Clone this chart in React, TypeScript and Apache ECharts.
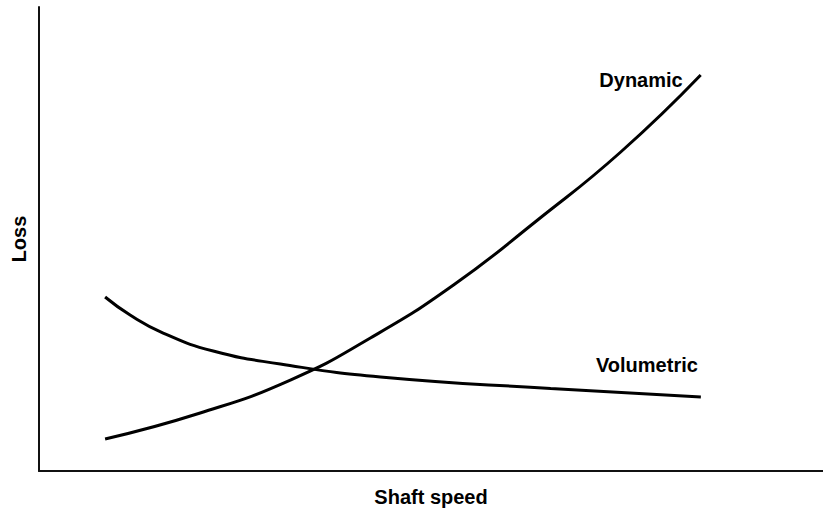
import React, { useEffect, useRef } from "react";
import * as echarts from "echarts";

const dynamicX = [8.43, 20.56, 32.06, 42.27, 52.87, 63.6, 74.2, 84.4];
const dynamicY = [6.9, 12.5, 19.61, 28.66, 40.09, 54.1, 68.75, 85.34];

const volumetricX = [8.43, 11.62, 15.84, 22.22, 30.78, 43.55, 65.26, 84.42];
const volumetricY = [37.5, 33.62, 29.74, 25.86, 23.06, 20.26, 17.78, 15.95];

const seriesNames = ["Dynamic", "Volumetric"];
const xAxisName = "Shaft speed";
const yAxisName = "Loss";

const FONT = "'Liberation Sans', Arial, sans-serif";

export default function App() {
  const ref = useRef<HTMLDivElement>(null);
  useEffect(() => {
    if (!ref.current) return;
    const chart = echarts.init(ref.current, null, { renderer: "svg" });
    const zip = (xs: number[], ys: number[]) => xs.map((x, i) => [x, ys[i]]);
    const lineStyle = { color: "#000", width: 3 };
    const textBase = { fontFamily: FONT, fontWeight: "bold" as const, fontSize: 20, color: "#000" };
    chart.setOption({
      animation: false,
      backgroundColor: "#fff",
      grid: { left: 39, right: 0, top: 7, bottom: 44 },
      xAxis: {
        type: "value",
        min: 0,
        max: 100,
        name: xAxisName,
        nameLocation: "middle",
        nameGap: 16,
        nameTextStyle: textBase,
        axisLine: { show: true, lineStyle: { color: "#111", width: 2 } },
        axisTick: { show: false },
        axisLabel: { show: false },
        splitLine: { show: false },
      },
      yAxis: {
        type: "value",
        min: 0,
        max: 100,
        name: yAxisName,
        nameLocation: "middle",
        nameGap: 10,
        nameTextStyle: textBase,
        axisLine: { show: true, lineStyle: { color: "#111", width: 2 } },
        axisTick: { show: false },
        axisLabel: { show: false },
        splitLine: { show: false },
      },
      series: [
        {
          name: seriesNames[0],
          type: "line",
          smooth: true,
          showSymbol: false,
          lineStyle,
          data: zip(dynamicX, dynamicY),
          endLabel: {
            show: true,
            formatter: seriesNames[0],
            ...textBase,
            align: "right",
            verticalAlign: "middle",
            offset: [-26, 5],
          },
        },
        {
          name: seriesNames[1],
          type: "line",
          smooth: true,
          showSymbol: false,
          lineStyle,
          data: zip(volumetricX, volumetricY),
          endLabel: {
            show: true,
            formatter: seriesNames[1],
            ...textBase,
            align: "right",
            verticalAlign: "middle",
            offset: [-11, -32],
          },
        },
      ],
    });
    return () => chart.dispose();
  }, []);
  return (
    <div
      ref={ref}
      style={{ position: "fixed", left: 0, top: 0, width: 823, height: 515, background: "#fff" }}
    />
  );
}
